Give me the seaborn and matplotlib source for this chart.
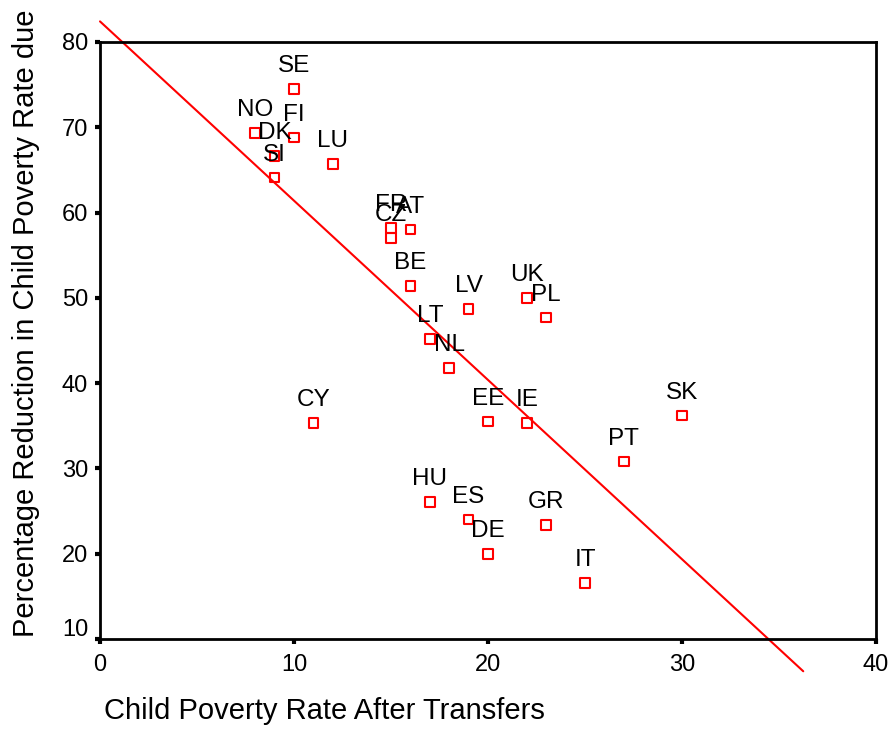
import numpy as np
import pandas as pd
import matplotlib
matplotlib.use("Agg")
import matplotlib.pyplot as plt
import matplotlib.transforms as mtransforms
import seaborn as sns

# ---- data ----
countries = ["SE", "NO", "FI", "DK", "SI", "LU", "FR", "CZ", "AT", "BE",
             "LT", "NL", "LV", "UK", "PL", "CY", "EE", "IE", "SK", "PT",
             "HU", "ES", "GR", "DE", "IT"]
poverty_after = [10, 8, 10, 9, 9, 12, 15, 15, 16, 16,
                 17, 18, 19, 22, 23, 11, 20, 22, 30, 27,
                 17, 19, 23, 20, 25]
reduction = [74.5, 69.3, 68.8, 66.6, 64.1, 65.7, 58.2, 57.0, 58.0, 51.4,
             45.2, 41.8, 48.7, 50.0, 47.7, 35.3, 35.5, 35.3, 36.2, 30.8,
             26.1, 24.0, 23.4, 20.0, 16.6]
x_ticks = [0, 10, 20, 30, 40]
y_ticks = [10, 20, 30, 40, 50, 60, 70, 80]
fit_x_range = [0.0, 36.25]

df = pd.DataFrame({"country": countries, "x": poverty_after, "y": reduction})

sns.set_theme(style="white")
plt.rcParams["font.family"] = ["Liberation Sans", "DejaVu Sans"]

fig = plt.figure(figsize=(8.88, 7.5), dpi=100)
ax = fig.add_axes([100 / 888, 1 - 639 / 750, 776 / 888, 597 / 750])

# regression line (fit from data), drawn beyond the axes like the reference
slope, intercept = np.polyfit(df["x"], df["y"], 1)
lx = np.array(fit_x_range)
ax.plot(lx, intercept + slope * lx, color="red", lw=1.5, clip_on=False, zorder=2)

sns.scatterplot(data=df, x="x", y="y", ax=ax, marker="s", s=49,
                facecolors="none", edgecolor="red", linewidth=1.5, zorder=3)

for c, xv, yv in zip(countries, poverty_after, reduction):
    ax.annotate(c, (xv, yv), xytext=(0, 16.5), textcoords="offset points",
                ha="center", va="center", fontsize=17.5, color="black", zorder=4)

ax.set_xlim(0, 40)
ax.set_ylim(10, 80)
ax.set_xticks(x_ticks)
ax.set_yticks(y_ticks)
ax.tick_params(axis="both", direction="out", length=3.6, width=3, color="black",
               labelsize=17, labelcolor="black", bottom=True, left=True)
ax.tick_params(axis="y", pad=5)
ax.tick_params(axis="x", pad=7)
for s in ax.spines.values():
    s.set_visible(True)
    s.set_color("black")
    s.set_linewidth(2)

ax.set_xlabel("Child Poverty Rate After Transfers", fontsize=21, color="black")
ax.set_ylabel("Percentage Reduction in Child Poverty Rate due", fontsize=21,
              color="black")
ax.xaxis.set_label_coords(0.289, -0.097)
ax.yaxis.set_label_coords(-0.077, 0.529)

# the lowest y tick label sits slightly raised in the reference
fig.canvas.draw()
lowest = ax.yaxis.get_major_ticks()[0].label1
lowest.set_transform(lowest.get_transform() +
                     mtransforms.ScaledTranslation(0, 0.11, fig.dpi_scale_trans))

fig.savefig("out.png", dpi=100)
